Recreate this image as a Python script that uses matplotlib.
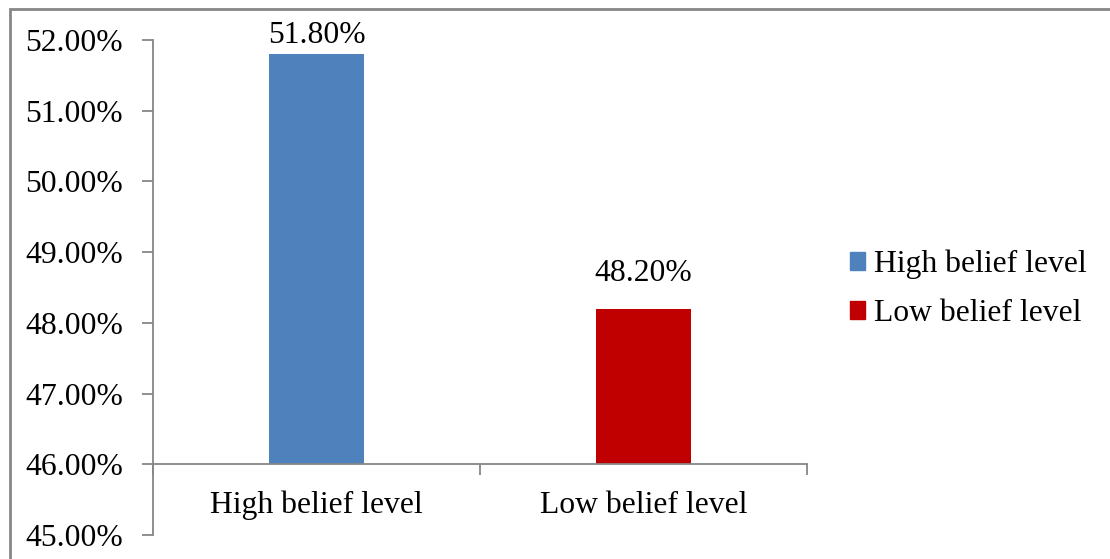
import matplotlib
matplotlib.use('Agg')
import matplotlib.pyplot as plt
from matplotlib.patches import Rectangle, Patch
from matplotlib.ticker import FixedLocator, FuncFormatter

# values (percent)
categories = ['High belief level', 'Low belief level']
values = [51.80, 48.20]
colors = ['#4f81bd', '#c00000']
y_ticks = [45, 46, 47, 48, 49, 50, 51, 52]
label_offsets = [3, 15]  # points above each bar

plt.rcParams['font.family'] = ['Liberation Serif', 'DejaVu Serif']
axis_grey = '#868686'
fs = 22.8

fig = plt.figure(figsize=(11.1, 5.59), dpi=100)
ax = fig.add_axes([153 / 1110, 1 - 535 / 559, (807 - 153) / 1110, (535 - 40) / 559])

x = range(len(categories))
bars = ax.bar(x, [v - 46 for v in values], bottom=46, width=0.29, color=colors)

for rect, v, off in zip(bars, values, label_offsets):
    ax.annotate(f'{v:.2f}%', (rect.get_x() + rect.get_width() / 2, v),
                xytext=(0, off), textcoords='offset points',
                ha='center', va='bottom', fontsize=fs)

ax.set_xlim(-0.5, len(categories) - 0.5)
ax.set_ylim(45, 52)
ax.set_yticks(y_ticks)
ax.yaxis.set_major_formatter(FuncFormatter(lambda v, p: f'{v:.2f}%'))

# category boundaries get tick marks, labels sit in between
ax.xaxis.set_major_locator(FixedLocator([-0.5, 0.5, 1.5]))
ax.xaxis.set_major_formatter(FuncFormatter(lambda v, p: ''))
ax.xaxis.set_minor_locator(FixedLocator(list(x)))
ax.set_xticklabels(categories, minor=True)
ax.tick_params(axis='x', which='minor', length=0, labelsize=fs, pad=19)
ax.tick_params(axis='x', which='major', length=8, width=1.3, color=axis_grey)
ax.tick_params(axis='y', length=8, width=1.3, color=axis_grey, labelsize=fs, pad=13.5)

for s in ['top', 'right']:
    ax.spines[s].set_visible(False)
ax.spines['bottom'].set_position(('data', 46))
for s in ['left', 'bottom']:
    ax.spines[s].set_color(axis_grey)
    ax.spines[s].set_linewidth(1.3)

handles = [Patch(color=c, label=l) for c, l in zip(colors, categories)]
fig.legend(handles=handles, loc='center left', bbox_to_anchor=(850 / 1110, 1 - 289 / 559),
           frameon=False, fontsize=fs, handlelength=0.47, handleheight=0.47,
           handletextpad=0.3, labelspacing=0.62, borderaxespad=0, borderpad=0)

# outer chart border
fig.patches.append(Rectangle((10 / 1110, -0.05), 1.1, 1 - 9 / 559 + 0.05,
                             transform=fig.transFigure, fill=False,
                             edgecolor=axis_grey, linewidth=2))

fig.savefig('out.png', dpi=100)
